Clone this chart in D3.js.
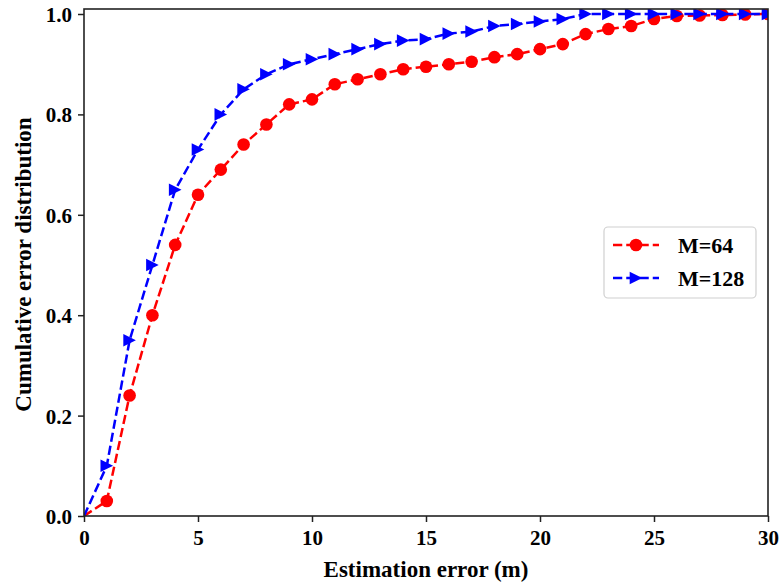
<!DOCTYPE html>
<html>
<head>
<meta charset="utf-8">
<script src="https://cdn.jsdelivr.net/npm/d3@7"></script>
<style>
  html, body { margin: 0; padding: 0; background: #fff; }
  svg { display: block; }
  text { font-family: "Liberation Serif", "Times New Roman", serif; font-weight: bold; }
</style>
</head>
<body>
<svg id="chart" width="781" height="582"></svg>
<script>
const xValues = [0,1,2,3,4,5,6,7,8,9,10,11,12,13,14,15,16,17,18,19,20,21,22,23,24,25,26,27,28,29,30];
const m64 = [0,0.03,0.24,0.40,0.54,0.64,0.69,0.74,0.78,0.82,0.83,0.86,0.87,0.88,0.89,0.895,0.90,0.905,0.914,0.92,0.93,0.94,0.96,0.97,0.976,0.99,0.996,0.997,0.998,0.999,1.0];
const m128 = [0,0.10,0.35,0.50,0.65,0.73,0.80,0.85,0.88,0.90,0.91,0.92,0.93,0.94,0.947,0.95,0.961,0.965,0.976,0.98,0.985,0.99,1.0,1.0,1.0,1.0,1.0,1.0,1.0,1.0,1.0];
const xTicks = [0,5,10,15,20,25,30];
const yTicks = [0.0,0.2,0.4,0.6,0.8,1.0];
const seriesNames = ["M=64","M=128"];
const seriesColors = ["#ff0000","#0000ff"];

const svg = d3.select("#chart");
const L = 84, R = 768, T = 9, B = 516;
const x = d3.scaleLinear().domain([0,30]).range([L,R]);
const y = d3.scaleLinear().domain([0,1]).range([B,14]);

// axes
const xAxis = svg.append("g").attr("transform",`translate(0,${B})`)
  .call(d3.axisBottom(x).tickValues(xTicks).tickFormat(d3.format("d")).tickSize(6).tickPadding(4));
const yAxis = svg.append("g").attr("transform",`translate(${L},0)`)
  .call(d3.axisLeft(y).tickValues(yTicks).tickFormat(d3.format(".1f")).tickSize(6).tickPadding(6));
[xAxis,yAxis].forEach(a=>{
  a.select(".domain").remove();
  a.selectAll(".tick line").attr("stroke","#222").attr("stroke-width",1.5);
  a.selectAll(".tick text").attr("fill","#000").style("font-size","21px")
   .style("font-family",'"Liberation Serif", serif').style("font-weight","bold");
});
yAxis.selectAll(".tick text").attr("dy","0.36em");
xAxis.selectAll(".tick text").attr("y",29).attr("dy","0");

const svgDefs = svg.append("defs");
svgDefs.append("clipPath").attr("id","plotclip").append("rect")
  .attr("x",L).attr("y",T).attr("width",R-L).attr("height",B-T);
const plot = svg.append("g").attr("clip-path","url(#plotclip)");

const line = d3.line().x((d,i)=>x(xValues[i])).y(d=>y(d));
const data = [m64, m128];
const triPath = (s)=>`M${s},0L${-s},${s}L${-s},${-s}Z`;

data.forEach((vals,si)=>{
  const g = plot.append("g");
  g.append("path").datum(vals).attr("d",line)
    .attr("fill","none").attr("stroke",seriesColors[si]).attr("stroke-width",2.5)
    .attr("stroke-dasharray","9.25,4");
  const pts = g.selectAll(".pt").data(vals.map((v,i)=>({v,i})).filter(d=>d.i>0)).enter();
  if (si===0) {
    pts.append("circle").attr("cx",d=>x(xValues[d.i])).attr("cy",d=>y(d.v)).attr("r",6.3)
      .attr("fill",seriesColors[si]);
  } else {
    pts.append("path").attr("d",triPath(6.3))
      .attr("transform",d=>`translate(${x(xValues[d.i])},${y(d.v)})`)
      .attr("fill",seriesColors[si]);
  }
});

// frame
svg.append("rect").attr("x",L).attr("y",T).attr("width",R-L).attr("height",B-T)
  .attr("fill","none").attr("stroke","#222").attr("stroke-width",1.6);

// legend
const lg = svg.append("g");
lg.append("rect").attr("x",604).attr("y",227).attr("width",152).attr("height",71).attr("rx",4)
  .attr("fill","#fff").attr("fill-opacity",0.8).attr("stroke","#d0d0d0").attr("stroke-width",1.2);
const rows = [245, 278];
seriesNames.forEach((name,i)=>{
  const yy = rows[i];
  lg.append("line").attr("x1",613).attr("x2",659).attr("y1",yy).attr("y2",yy)
    .attr("stroke",seriesColors[i]).attr("stroke-width",2.5).attr("stroke-dasharray","9.25,4");
  if (i===0) lg.append("circle").attr("cx",636).attr("cy",yy).attr("r",6.3).attr("fill",seriesColors[i]);
  else lg.append("path").attr("d",triPath(6.3)).attr("transform",`translate(636,${yy})`).attr("fill",seriesColors[i]);
  lg.append("text").attr("x",678).attr("y",yy).attr("dy","0.35em").style("font-size","22px").text(name);
});

// axis labels
svg.append("text").attr("x",(L+R)/2).attr("y",577).attr("text-anchor","middle")
  .style("font-size","23px").text("Estimation error (m)");
svg.append("text").attr("transform",`translate(31,${(T+B)/2+2}) rotate(-90)`).attr("text-anchor","middle")
  .style("font-size","23px").text("Cumulative error distribution");
</script>
</body>
</html>
